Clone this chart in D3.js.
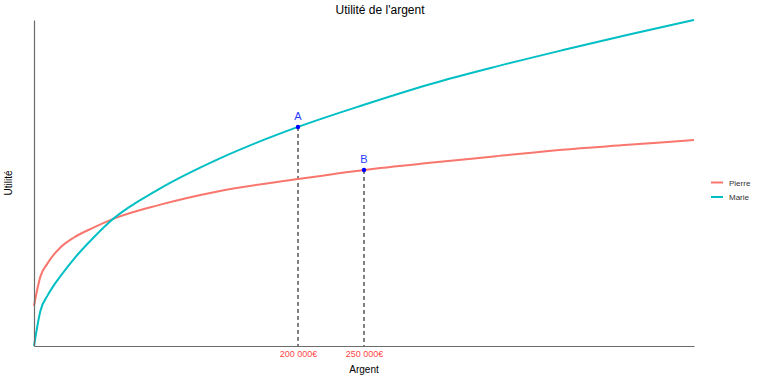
<!DOCTYPE html>
<html>
<head>
<meta charset="utf-8">
<script src="https://cdn.jsdelivr.net/npm/d3@7"></script>
<style>
  body { margin: 0; background: #fff; }
  text { font-family: "Liberation Sans", Arial, sans-serif; }
</style>
</head>
<body>
<div id="chart"></div>
<script>
const width = 760,
  height = 380;
const margin = { top: 20, right: 66, bottom: 34, left: 34 };

// money (euros) and utility
const argent = [0, 5000, 10000, 15000, 20000, 30000, 45000, 60000, 95000, 140000, 200000, 250000, 300000, 350000, 400000, 450000, 500000];
const pierre = [12.3, 21.5, 25.2, 28.0, 30.2, 33.2, 36.3, 39.0, 43.3, 47.5, 51.2, 54.0, 56.2, 58.2, 60.2, 61.7, 63.2];
const marie = [0, 11.0, 15.3, 18.6, 21.4, 26.6, 33.2, 39.0, 48.2, 57.4, 67.2, 74.0, 80.3, 85.7, 90.7, 95.5, 100];

const seriesNames = ["Pierre", "Marie"];
const seriesColors = ["#F8766D", "#00BFC4"];

const pointLabels = ["A", "B"];
const pointX = [200000, 250000];
const pointY = [67.2, 54.0];

const tickValues = [200000, 250000];
const tickLabels = ["200 000€", "250 000€"];

const svg = d3.select("#chart").append("svg").attr("width", width).attr("height", height);

const x = d3.scaleLinear().domain([0, 500000]).range([margin.left, width - margin.right]);
const y = d3.scaleLinear().domain([0, 100]).range([height - margin.bottom, margin.top]);

const line = d3
  .line()
  .x(d => x(d[0]))
  .y(d => y(d[1]))
  .curve(d3.curveMonotoneX);

// dashed guides
svg
  .selectAll(".guide")
  .data(pointX)
  .join("line")
  .attr("x1", d => x(d))
  .attr("x2", d => x(d))
  .attr("y1", (d, i) => y(pointY[i]))
  .attr("y2", y(0))
  .attr("stroke", "#000")
  .attr("stroke-width", 1)
  .attr("stroke-dasharray", "4,3");

// curves
const series = [pierre, marie];
svg
  .selectAll(".curve")
  .data(series)
  .join("path")
  .attr("d", s => line(argent.map((a, i) => [a, s[i]])))
  .attr("fill", "none")
  .attr("stroke", (d, i) => seriesColors[i])
  .attr("stroke-width", 2);

// axes
const xAxis = svg
  .append("g")
  .attr("transform", `translate(0,${y(0)})`)
  .call(
    d3
      .axisBottom(x)
      .tickValues(tickValues)
      .tickFormat((d, i) => tickLabels[i])
      .tickSize(0)
      .tickPadding(5)
  );
xAxis.select(".domain").attr("stroke", "#6b6b6b").attr("stroke-width", 1.2);
xAxis.selectAll("text").attr("fill", "#ff4545").attr("font-size", 9).style("font-family", "Liberation Sans, Arial, sans-serif");

const yAxis = svg
  .append("g")
  .attr("transform", `translate(${x(0)},0)`)
  .call(d3.axisLeft(y).tickValues([]).tickSizeOuter(0));
yAxis.select(".domain").attr("stroke", "#6b6b6b").attr("stroke-width", 1.2);

// points
svg
  .selectAll(".pt")
  .data(pointX)
  .join("circle")
  .attr("cx", d => x(d))
  .attr("cy", (d, i) => y(pointY[i]))
  .attr("r", 2.2)
  .attr("fill", "#0000ff");

svg
  .selectAll(".ptlab")
  .data(pointLabels)
  .join("text")
  .attr("x", (d, i) => x(pointX[i]))
  .attr("y", (d, i) => y(pointY[i]) - 7)
  .attr("text-anchor", "middle")
  .attr("font-size", 11)
  .attr("fill", "#2a3cff")
  .text(d => d);

// titles
svg
  .append("text")
  .attr("x", 380)
  .attr("y", 14)
  .attr("text-anchor", "middle")
  .attr("font-size", 12)
  .text("Utilité de l'argent");

svg
  .append("text")
  .attr("x", (x.range()[0] + x.range()[1]) / 2)
  .attr("y", 373)
  .attr("text-anchor", "middle")
  .attr("font-size", 10)
  .text("Argent");

svg
  .append("text")
  .attr("transform", `translate(12,${(y.range()[0] + y.range()[1]) / 2}) rotate(-90)`)
  .attr("text-anchor", "middle")
  .attr("font-size", 10)
  .text("Utilité");

// legend
const legend = svg
  .selectAll(".leg")
  .data(seriesNames)
  .join("g")
  .attr("transform", (d, i) => `translate(711,${182.5 + i * 14.5})`);
legend
  .append("line")
  .attr("x1", 0)
  .attr("x2", 12)
  .attr("stroke", (d, i) => seriesColors[i])
  .attr("stroke-width", 2);
legend
  .append("text")
  .attr("x", 18)
  .attr("y", 3)
  .attr("font-size", 8)
  .attr("fill", "#333")
  .text(d => d);
</script>
</body>
</html>
